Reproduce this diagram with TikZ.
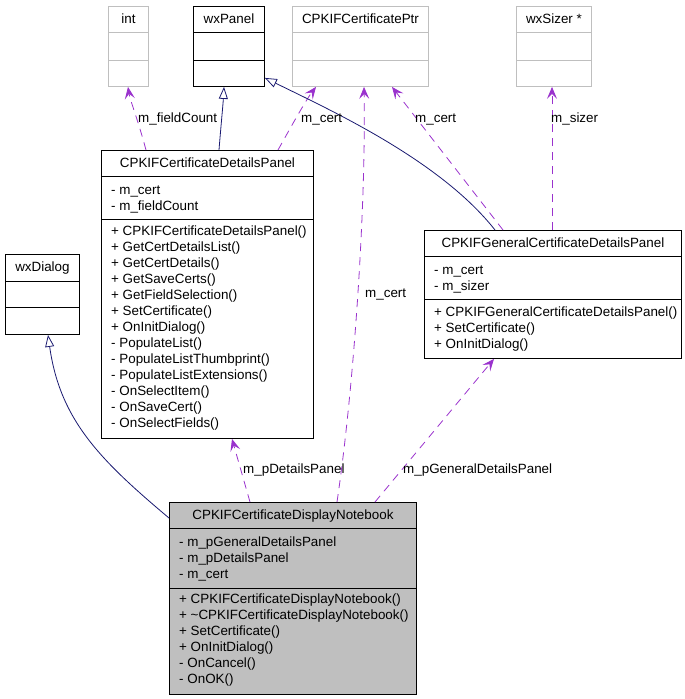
\documentclass[tikz,border=0pt]{standalone}
\usepackage{fontspec}
\setmainfont{Liberation Sans}
\usetikzlibrary{arrows.meta}
\definecolor{assoc}{HTML}{9A32CD}
\definecolor{inh}{HTML}{191970}
\definecolor{gbox}{HTML}{BFBFBF}
\tikzset{
  cls/.style={draw=black, line width=0.9pt, inner sep=0pt, anchor=north west},
  gcls/.style={cls, draw=gbox},
  txt/.style={inner sep=0pt, font=\fontsize{13.4}{16}\selectfont, anchor=mid west, yshift=-2pt},
  ttl/.style={inner sep=0pt, font=\fontsize{13.4}{16}\selectfont, anchor=mid, yshift=-2pt},
  lbl/.style={inner sep=0pt, font=\fontsize{13.4}{16}\selectfont, anchor=mid west, yshift=-2pt},
  assocline/.style={draw=assoc, line width=0.8pt, dash pattern=on 8pt off 6pt,
     -{Stealth[length=12pt,width=10pt,inset=5pt,fill=assoc]}},
  inhline/.style={draw=inh, line width=0.8pt, -{Triangle[open,length=12pt,width=9pt,fill=white]}},
}
\begin{document}
\begin{tikzpicture}[x=1pt,y=-1pt]
\useasboundingbox (0,0) rectangle (685,699);

% ---- int ----
\node[gcls, minimum width=40pt, minimum height=80pt] (int) at (108,6) {};
\draw[gbox, line width=0.9pt] ([yshift=-26pt]int.north west) -- ([yshift=-26pt]int.north east);
\draw[gbox, line width=0.9pt] ([yshift=-54pt]int.north west) -- ([yshift=-54pt]int.north east);
\node[ttl] (intt) at ([yshift=-13pt]int.north) {int};

% ---- wxPanel ----
\node[cls, minimum width=71pt, minimum height=80pt] (wxp) at (193,6) {};
\draw[line width=0.9pt] ([yshift=-26pt]wxp.north west) -- ([yshift=-26pt]wxp.north east);
\draw[line width=0.9pt] ([yshift=-54pt]wxp.north west) -- ([yshift=-54pt]wxp.north east);
\node[ttl] (wxpt) at ([yshift=-13pt]wxp.north) {wxPanel};

% ---- CPKIFCertificatePtr ----
\node[gcls, minimum width=136pt, minimum height=80pt] (ptr) at (292,6) {};
\draw[gbox, line width=0.9pt] ([yshift=-26pt]ptr.north west) -- ([yshift=-26pt]ptr.north east);
\draw[gbox, line width=0.9pt] ([yshift=-54pt]ptr.north west) -- ([yshift=-54pt]ptr.north east);
\node[ttl] (ptrt) at ([yshift=-13pt]ptr.north) {CPKIFCertificatePtr};

% ---- wxSizer * ----
\node[gcls, minimum width=75pt, minimum height=80pt] (siz) at (516,6) {};
\draw[gbox, line width=0.9pt] ([yshift=-26pt]siz.north west) -- ([yshift=-26pt]siz.north east);
\draw[gbox, line width=0.9pt] ([yshift=-54pt]siz.north west) -- ([yshift=-54pt]siz.north east);
\node[ttl] (sizt) at ([yshift=-13pt]siz.north) {wxSizer *};

% ---- wxDialog ----
\node[cls, minimum width=74pt, minimum height=80pt] (wxd) at (5,254) {};
\draw[line width=0.9pt] ([yshift=-27pt]wxd.north west) -- ([yshift=-27pt]wxd.north east);
\draw[line width=0.9pt] ([yshift=-53pt]wxd.north west) -- ([yshift=-53pt]wxd.north east);
\node[ttl] (wxdt) at ([yshift=-13pt]wxd.north) {wxDialog};

% ---- CPKIFCertificateDetailsPanel ----
\node[cls, minimum width=212pt, minimum height=288pt] (dp) at (101,150) {};
\draw[line width=0.9pt] ([yshift=-26pt]dp.north west) -- ([yshift=-26pt]dp.north east);
\draw[line width=0.9pt] ([yshift=-69pt]dp.north west) -- ([yshift=-69pt]dp.north east);
\node[ttl] (dpt) at ([yshift=-13pt]dp.north) {CPKIFCertificateDetailsPanel};
\node[txt] (dpa1) at ([xshift=10pt,yshift=-40pt]dp.north west) {- m\_cert};
\node[txt] (dpa2) at ([xshift=10pt,yshift=-56pt]dp.north west) {- m\_fieldCount};
\node[txt] (dpm1) at ([xshift=10pt,yshift=-81pt]dp.north west) {+ CPKIFCertificateDetailsPanel()};
\node[txt] (dpm2) at ([xshift=10pt,yshift=-97pt]dp.north west) {+ GetCertDetailsList()};
\node[txt] (dpm3) at ([xshift=10pt,yshift=-113pt]dp.north west) {+ GetCertDetails()};
\node[txt] (dpm4) at ([xshift=10pt,yshift=-129pt]dp.north west) {+ GetSaveCerts()};
\node[txt] (dpm5) at ([xshift=10pt,yshift=-145pt]dp.north west) {+ GetFieldSelection()};
\node[txt] (dpm6) at ([xshift=10pt,yshift=-161pt]dp.north west) {+ SetCertificate()};
\node[txt] (dpm7) at ([xshift=10pt,yshift=-177pt]dp.north west) {+ OnInitDialog()};
\node[txt] (dpm8) at ([xshift=10pt,yshift=-193pt]dp.north west) {- PopulateList()};
\node[txt] (dpm9) at ([xshift=10pt,yshift=-209pt]dp.north west) {- PopulateListThumbprint()};
\node[txt] (dpm10) at ([xshift=10pt,yshift=-225pt]dp.north west) {- PopulateListExtensions()};
\node[txt] (dpm11) at ([xshift=10pt,yshift=-241pt]dp.north west) {- OnSelectItem()};
\node[txt] (dpm12) at ([xshift=10pt,yshift=-257pt]dp.north west) {- OnSaveCert()};
\node[txt] (dpm13) at ([xshift=10pt,yshift=-273pt]dp.north west) {- OnSelectFields()};

% ---- CPKIFGeneralCertificateDetailsPanel ----
\node[cls, minimum width=257pt, minimum height=128pt] (gp) at (424,230) {};
\draw[line width=0.9pt] ([yshift=-26pt]gp.north west) -- ([yshift=-26pt]gp.north east);
\draw[line width=0.9pt] ([yshift=-69pt]gp.north west) -- ([yshift=-69pt]gp.north east);
\node[ttl] (gpt) at ([yshift=-13pt]gp.north) {CPKIFGeneralCertificateDetailsPanel};
\node[txt] (gpa1) at ([xshift=10pt,yshift=-40pt]gp.north west) {- m\_cert};
\node[txt] (gpa2) at ([xshift=10pt,yshift=-56pt]gp.north west) {- m\_sizer};
\node[txt] (gpm1) at ([xshift=10pt,yshift=-82pt]gp.north west) {+ CPKIFGeneralCertificateDetailsPanel()};
\node[txt] (gpm2) at ([xshift=10pt,yshift=-98pt]gp.north west) {+ SetCertificate()};
\node[txt] (gpm3) at ([xshift=10pt,yshift=-114pt]gp.north west) {+ OnInitDialog()};

% ---- CPKIFCertificateDisplayNotebook ----
\node[cls, fill=gbox, minimum width=247pt, minimum height=192pt] (nb) at (169,502) {};
\draw[line width=0.9pt] ([yshift=-26pt]nb.north west) -- ([yshift=-26pt]nb.north east);
\draw[line width=0.9pt] ([yshift=-86pt]nb.north west) -- ([yshift=-86pt]nb.north east);
\node[ttl] (nbt) at ([yshift=-13pt]nb.north) {CPKIFCertificateDisplayNotebook};
\node[txt] (nba1) at ([xshift=10pt,yshift=-40pt]nb.north west) {- m\_pGeneralDetailsPanel};
\node[txt] (nba2) at ([xshift=10pt,yshift=-56pt]nb.north west) {- m\_pDetailsPanel};
\node[txt] (nba3) at ([xshift=10pt,yshift=-72pt]nb.north west) {- m\_cert};
\node[txt] (nbm1) at ([xshift=10pt,yshift=-97pt]nb.north west) {+ CPKIFCertificateDisplayNotebook()};
\node[txt] (nbm2) at ([xshift=10pt,yshift=-113pt]nb.north west) {+ \char`\~CPKIFCertificateDisplayNotebook()};
\node[txt] (nbm3) at ([xshift=10pt,yshift=-129pt]nb.north west) {+ SetCertificate()};
\node[txt] (nbm4) at ([xshift=10pt,yshift=-145pt]nb.north west) {+ OnInitDialog()};
\node[txt] (nbm5) at ([xshift=10pt,yshift=-161pt]nb.north west) {- OnCancel()};
\node[txt] (nbm6) at ([xshift=10pt,yshift=-177pt]nb.north west) {- OnOK()};

% ---- connectors ----
\draw[assocline] ([xshift=45pt]dp.north west) .. controls (138,120) and (130,100) .. ([xshift=20pt]int.south west);
\draw[inhline] ([xshift=118pt]dp.north west) .. controls (221,125) and (223,105) .. ([xshift=31pt]wxp.south west);
\draw[assocline] ([xshift=177pt]dp.north west) .. controls (292,125) and (306,100) .. ([xshift=24pt]ptr.south west);
\draw[inhline] ([xshift=71pt]gp.north west) .. controls (440,160) and (330,110) .. ([yshift=9pt]wxp.south east);
\draw[assocline] ([xshift=79pt]gp.north west) -- ([xshift=100pt]ptr.south west);
\draw[assocline] ([xshift=128pt]gp.north west) -- ([xshift=36pt]siz.south west);
\draw[assocline] ([xshift=168pt]nb.north west) .. controls (355,380) and (366,200) .. ([xshift=72pt]ptr.south west);
\draw[assocline] ([xshift=81pt]nb.north west) -- ([xshift=131pt]dp.south west);
\draw[assocline] ([xshift=206pt]nb.north west) -- ([xshift=70pt]gp.south west);
\draw[inhline] ([yshift=-16pt]nb.north west) .. controls (100,460) and (60,420) .. ([xshift=43pt]wxd.south west);

% ---- labels ----
\node[lbl] (l1) at (138,118) {m\_fieldCount};
\node[lbl] (l2) at (301,118) {m\_cert};
\node[lbl] (l3) at (415,118) {m\_cert};
\node[lbl] (l4) at (551,118) {m\_sizer};
\node[lbl] (l5) at (365,293) {m\_cert};
\node[lbl] (l6) at (243,469) {m\_pDetailsPanel};
\node[lbl] (l7) at (403,469) {m\_pGeneralDetailsPanel};
\end{tikzpicture}
\end{document}
